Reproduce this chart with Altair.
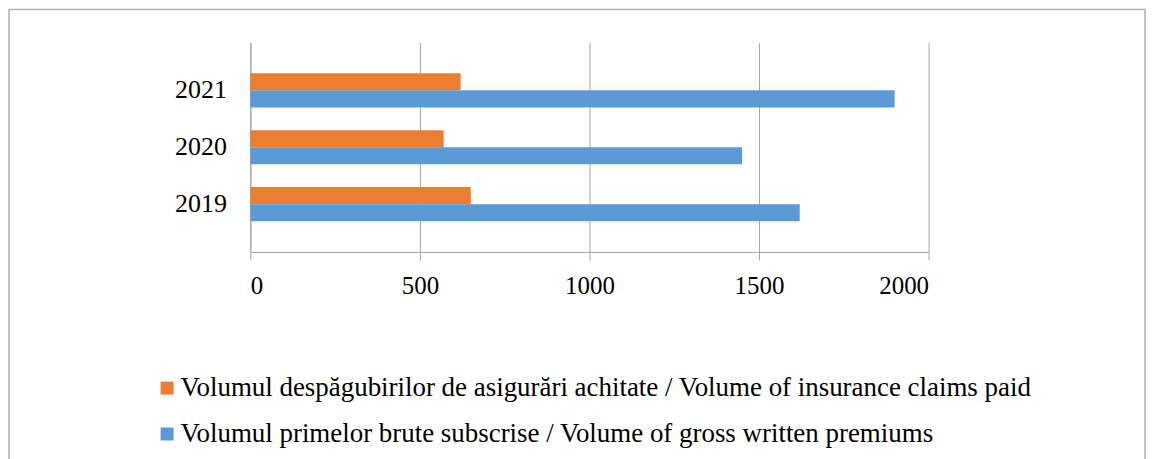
import altair as alt
import pandas as pd

years = ["2021", "2020", "2019"]
claims = [620, 570, 650]
premiums = [1900, 1450, 1620]
series = [
    "Volumul despăgubirilor de asigurări achitate / Volume of insurance claims paid",
    "Volumul primelor brute subscrise / Volume of gross written premiums",
]
colors = ["#ED7D31", "#5B9BD5"]
x_ticks = [0, 500, 1000, 1500, 2000]

rows = []
for y, c, p in zip(years, claims, premiums):
    rows.append({"year": y, "series": series[0], "value": c})
    rows.append({"year": y, "series": series[1], "value": p})
df = pd.DataFrame(rows)

FONT = "Liberation Serif"
GRID = "#a6a6a6"

bars = alt.Chart(df).mark_bar(stroke=None).encode(
    y=alt.Y("year:N", sort=years,
            scale=alt.Scale(paddingInner=0.4, paddingOuter=0.54),
            axis=alt.Axis(title=None, ticks=False, labelPadding=24, labelFont=FONT,
                          labelFontSize=26, labelColor="black", domainColor=GRID,
                          grid=False)),
    yOffset=alt.YOffset("series:N", sort=series),
    x=alt.X("value:Q", scale=alt.Scale(domain=[0, 2000], nice=False),
            axis=alt.Axis(title=None, values=x_ticks, format="d", labelFont=FONT,
                          labelFontSize=25, labelColor="black", gridColor=GRID,
                          domainColor=GRID, tickColor=GRID, tickSize=8, labelPadding=14)),
    color=alt.Color("series:N", sort=series,
                    scale=alt.Scale(domain=series, range=colors),
                    legend=alt.Legend(title=None, orient="none", legendX=-97, legendY=333,
                                      direction="vertical", symbolType="square",
                                      symbolSize=169, symbolStrokeWidth=0,
                                      labelFont=FONT, labelFontSize=27, labelColor="black",
                                      labelOffset=0, rowPadding=18, labelLimit=1200)),
)

frame = alt.Chart(pd.DataFrame({"k": [0]})).mark_rect(
    fill=None, stroke="#b0b0b0", strokeWidth=1.5
).encode(
    x=alt.value(-242), x2=alt.value(897), y=alt.value(-33), y2=alt.value(425)
)

chart = alt.layer(frame, bars).properties(
    width=680, height=210, padding=0
).configure(font=FONT).configure_view(stroke=None)

chart.save("out.html", embed_options={"renderer": "svg", "actions": False})
